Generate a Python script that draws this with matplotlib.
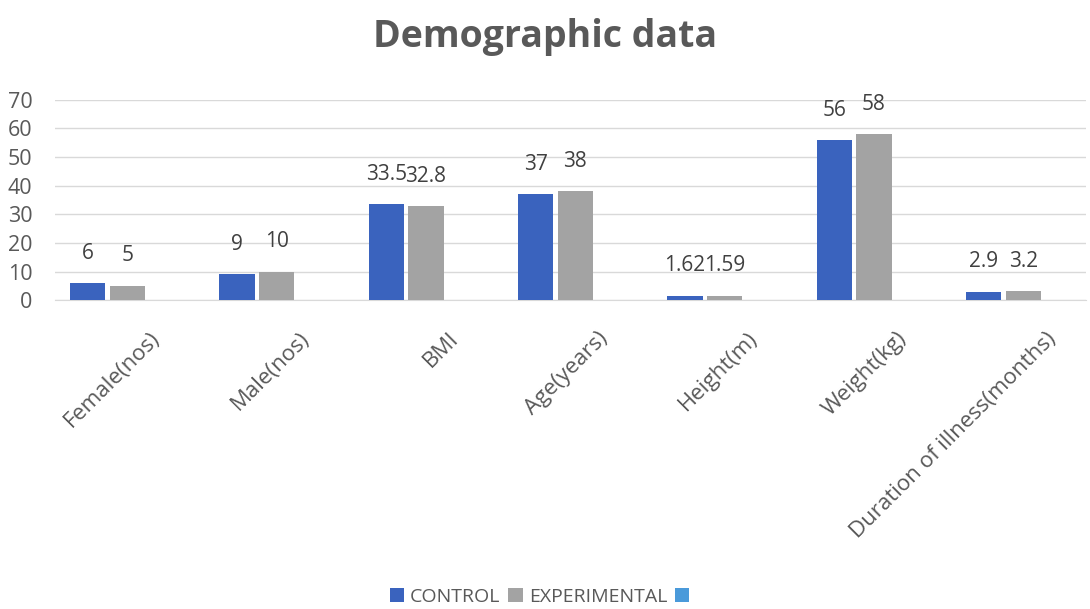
import numpy as np
import matplotlib.pyplot as plt

categories = ["Female(nos)", "Male(nos)", "BMI", "Age(years)", "Height(m)",
              "Weight(kg)", "Duration of illness(months)"]
control = [6, 9, 33.5, 37, 1.62, 56, 2.9]
experimental = [5, 10, 32.8, 38, 1.59, 58, 3.2]
control_labels = ["6", "9", "33.5", "37", "1.62", "56", "2.9"]
experimental_labels = ["5", "10", "32.8", "38", "1.59", "58", "3.2"]

plt.rcParams['font.family'] = ['Open Sans', 'DejaVu Sans']
txt = "#595959"

fig = plt.figure(figsize=(10.9, 6.09), dpi=100)
ax = fig.add_axes([0.05, 0.507, 0.946, 0.329])

x = np.arange(len(categories))
w = 0.235
b1 = ax.bar(x - 0.133, control, w, color="#3A63BE", label="CONTROL", zorder=3)
b2 = ax.bar(x + 0.133, experimental, w, color="#A3A3A3", label="EXPERIMENTAL", zorder=3)
b3 = ax.bar(x, [0] * len(x), 0, color="#4A9ADA", label=" ")

for rects, labs in ((b1, control_labels), (b2, experimental_labels)):
    for r, lab in zip(rects, labs):
        ax.annotate(lab, (r.get_x() + r.get_width() / 2, r.get_height()),
                    xytext=(0, 14), textcoords="offset points",
                    ha="center", va="bottom", fontsize=15, color="#404040")

ax.set_ylim(0, 70)
ax.set_xlim(-0.355, 6.55)
ax.set_yticks(range(0, 71, 10))
ax.yaxis.grid(True, color="#D9D9D9", linewidth=1, zorder=0)
# labels sit a little right of the group centre, like the original
ax.set_xticks(x + 0.28)
ax.set_xticklabels(categories, rotation=45, ha="right", rotation_mode="anchor",
                   fontsize=16, color=txt)
ax.tick_params(axis="y", labelsize=15.5, labelcolor=txt, length=0, pad=16)
ax.tick_params(axis="x", length=0, pad=20)
for s in ["top", "right", "left"]:
    ax.spines[s].set_visible(False)
ax.spines["bottom"].set_color("#D9D9D9")

fig.text(0.5, 0.94, "Demographic data", ha="center", va="center",
         fontsize=27, fontweight="bold", color=txt)

fig.legend(handles=[b1, b2, b3], loc="center", bbox_to_anchor=(0.5, 0.02),
           ncol=3, frameon=False, fontsize=14, labelcolor=txt,
           handlelength=0.75, handleheight=0.75, handletextpad=0.3, columnspacing=0.4)

fig.savefig("out.png", dpi=100)
